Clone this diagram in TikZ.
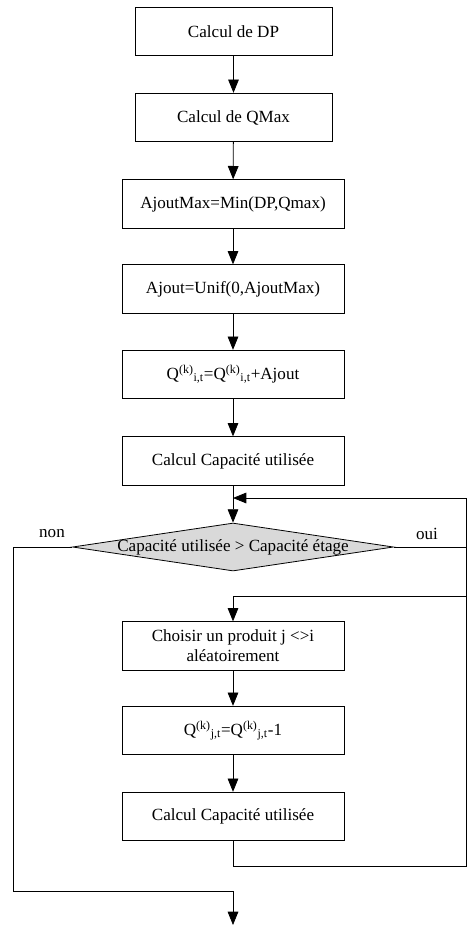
\documentclass[tikz,border=0pt]{standalone}
\usepackage{fontspec}
\setmainfont{Liberation Serif}
\usetikzlibrary{arrows.meta,positioning,shapes.geometric}

\begin{document}
\begin{tikzpicture}[x=0.75pt, y=-0.75pt, line width=0.6pt,
  every node/.style={font=\rmfamily\fontsize{12.8}{15}\selectfont},
  procbox/.style={draw, minimum width=166.5pt, minimum height=36.4pt, align=center, inner sep=2pt},
  smallbox/.style={procbox, minimum width=147.75pt},
  decision/.style={draw, diamond, fill=gray!30, minimum width=240.75pt, minimum height=36pt, inner sep=0pt},
  flow/.style={-{Triangle[length=10pt, width=8pt]}}]

\useasboundingbox (0,0) rectangle (469,928);

% Main chain
\node[smallbox] (dp)    at (233.5, 31.5)  {Calcul de DP};
\node[smallbox] (qmax)  at (233.5, 117.5) {Calcul de QMax};
\node[procbox]  (amax)  at (233, 204)     {AjoutMax=Min(DP,Qmax)};
\node[procbox]  (ajout) at (233, 289)     {Ajout=Unif(0,AjoutMax)};
\node[procbox]  (qit)   at (233, 374.5)   {Q\textsuperscript{(k)}\textsubscript{i,t}=Q\textsuperscript{(k)}\textsubscript{i,t}+Ajout};
\node[procbox]  (cap1)  at (233, 461)     {Calcul Capacité utilisée};

% Test
\node[decision, label=center:{Capacité utilisée > Capacité étage}] (cond) at (233, 547) {};
\node (non) at (52, 534) {non};
\node (oui) at (427, 534) {oui};

% Loop body
\node[procbox] (choix) at (233, 646)   {Choisir un produit j <>i\\aléatoirement};
\node[procbox] (qjt)   at (233, 730.5) {Q\textsuperscript{(k)}\textsubscript{j,t}=Q\textsuperscript{(k)}\textsubscript{j,t}-1};
\node[procbox] (cap2)  at (233, 816.5) {Calcul Capacité utilisée};

% Corner points of the return lines
\coordinate (retB) at (466, 866);
\coordinate (retT) at (466, 498);
\coordinate (ouiB) at (466, 596);
\coordinate (nonB) at (13, 891);
\coordinate (fin)  at (233, 925);

\draw[flow] (dp) -- (qmax);
\draw[flow] (qmax) -- (amax);
\draw[flow] (amax) -- (ajout);
\draw[flow] (ajout) -- (qit);
\draw[flow] (qit) -- (cap1);
\draw[flow] (cap1) -- (cond);
\draw[flow] (cond.east) -| (ouiB) -| (choix.north);
\draw[flow] (choix) -- (qjt);
\draw[flow] (qjt) -- (cap2);
\draw[flow] (cap2.south) |- (retB) -- (retT) -- (cap1.south |- retT);
\draw[flow] (cond.west) -| (nonB) -| (fin);

\end{tikzpicture}
\end{document}
